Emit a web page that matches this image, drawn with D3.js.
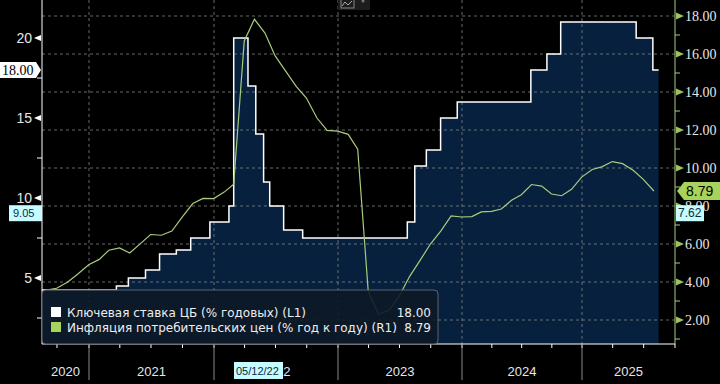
<!DOCTYPE html>
<html lang="ru">
<head>
<meta charset="utf-8">
<title>Ключевая ставка и инфляция</title>
<script src="https://cdn.jsdelivr.net/npm/d3@7"></script>
<style>
  body { margin: 0; background: #000; }
  svg { display: block; }
  .grid line { stroke: #8a8a8a; stroke-opacity: 0.75; stroke-dasharray: 3,3; }
  .tick-l text { fill: #e6e6e6; font: 14px "Liberation Sans", sans-serif; }
  .tick-r text { fill: #e6e6e6; font: 14px "Liberation Serif", serif; }
  .legend text { fill: #eeeeee; font: 12px "DejaVu Sans", sans-serif; }
</style>
</head>
<body>
<div id="chart"></div>
<script>
var width = 720, height = 384;

// key rate decisions (effective date, % per year)
var rateDates = ["2020-08-19","2021-03-22","2021-04-26","2021-06-15","2021-07-26","2021-09-13",
  "2021-10-25","2021-12-20","2022-02-14","2022-02-28","2022-04-11","2022-05-04","2022-05-27",
  "2022-06-14","2022-07-25","2022-09-19","2023-07-24","2023-08-15","2023-09-18","2023-10-30",
  "2023-12-18","2024-07-29","2024-09-16","2024-10-28","2025-06-09","2025-07-28","2025-08-14"];
var rateValues = [4.25,4.5,5,5.5,6.5,6.75,7.5,8.5,9.5,20,17,14,11,9.5,8,7.5,8.5,12,13,15,16,18,19,21,20,18,18];

// consumer price inflation, % y/y, monthly Aug 2020 - Jul 2025
var cpiMonths = ["2020-08","2020-09","2020-10","2020-11","2020-12",
  "2021-01","2021-02","2021-03","2021-04","2021-05","2021-06","2021-07","2021-08","2021-09","2021-10","2021-11","2021-12",
  "2022-01","2022-02","2022-03","2022-04","2022-05","2022-06","2022-07","2022-08","2022-09","2022-10","2022-11","2022-12",
  "2023-01","2023-02","2023-03","2023-04","2023-05","2023-06","2023-07","2023-08","2023-09","2023-10","2023-11","2023-12",
  "2024-01","2024-02","2024-03","2024-04","2024-05","2024-06","2024-07","2024-08","2024-09","2024-10","2024-11","2024-12",
  "2025-01","2025-02","2025-03","2025-04","2025-05","2025-06","2025-07"];
var cpiValues = [3.58,3.67,3.99,4.42,4.91,
  5.19,5.67,5.79,5.53,6.02,6.50,6.46,6.68,7.41,8.13,8.40,8.39,
  8.73,9.15,16.69,17.83,17.10,15.90,15.10,14.30,13.68,12.63,11.98,11.94,
  11.77,10.99,3.51,2.31,2.51,3.25,4.30,5.15,6.00,6.69,7.48,7.42,
  7.44,7.69,7.72,7.84,8.30,8.59,9.13,9.05,8.63,8.54,8.88,9.52,
  9.92,10.06,10.34,10.23,9.88,9.40,8.79];

var years = ["2020","2021","2022","2023","2024","2025"];
var leftTicks = [5,10,15,20], leftMinor = [2.5,7.5,12.5,17.5];
var rightTicks = [2,4,6,8,10,12,14,16,18], rightMinor = [1,3,5,7,9,11,13,15,17];

var legendNames = ["Ключевая ставка ЦБ (% годовых) (L1)", "Инфляция потребительских цен (% год к году) (R1)"];
var legendValues = ["18.00", "8.79"];

var parseDay = d3.timeParse("%Y-%m-%d"), parseMonth = d3.timeParse("%Y-%m");
var rate = rateDates.map(function(d, i) { return {date: parseDay(d), value: rateValues[i]}; });
var cpi = cpiMonths.map(function(m, i) {
  return {date: d3.timeDay.offset(d3.timeMonth.offset(parseMonth(m), 1), -1), value: cpiValues[i]};
});

var left = 42, right = 675, bottom = 344;

// Bloomberg-like axis: year widths slightly uneven
var x = d3.scaleTime()
  .domain([parseDay("2020-08-19"), parseDay("2021-01-01"), parseDay("2022-01-01"), parseDay("2023-01-01"),
           parseDay("2024-01-01"), parseDay("2025-01-01"), parseDay("2025-10-01")])
  .range([left, 89, 214, 338, 462, 582, right]);
var yL = d3.scaleLinear().domain([20, 5]).range([38, 278]);
var yR = d3.scaleLinear().domain([18, 2]).range([16, 320]);

var svg = d3.select("#chart").append("svg")
  .attr("width", width).attr("height", height);

svg.append("rect").attr("width", width).attr("height", height).attr("fill", "#000");

// key rate area + step line
var area = d3.area().curve(d3.curveStepAfter)
  .x(function(d) { return x(d.date); }).y0(bottom).y1(function(d) { return yL(d.value); });
var rateLine = d3.line().curve(d3.curveStepAfter)
  .x(function(d) { return x(d.date); }).y(function(d) { return yL(d.value); });

svg.append("path").datum(rate).attr("d", area).attr("fill", "#06203d");

// grid
var grid = svg.append("g").attr("class", "grid");
grid.selectAll(".h").data(rightTicks).enter().append("line")
  .attr("x1", left).attr("x2", right)
  .attr("y1", function(d) { return yR(d); }).attr("y2", function(d) { return yR(d); });
var yearStarts = years.slice(1).map(function(y) { return parseDay(y + "-01-01"); });
grid.selectAll(".v").data(yearStarts).enter().append("line")
  .attr("x1", function(d) { return x(d); }).attr("x2", function(d) { return x(d); })
  .attr("y1", 0).attr("y2", bottom);

svg.append("path").datum(rate).attr("d", rateLine)
  .attr("fill", "none").attr("stroke", "#fff").attr("stroke-width", 1.5);

var cpiLine = d3.line().x(function(d) { return x(d.date); }).y(function(d) { return yR(d.value); });
svg.append("path").datum(cpi).attr("d", cpiLine)
  .attr("fill", "none").attr("stroke", "#a9cc7c").attr("stroke-width", 1.2);

// left axis
var gl = svg.append("g").attr("class", "tick-l").attr("transform", "translate(" + left + ",0)")
  .call(d3.axisLeft(yL).tickValues(leftTicks).tickSize(0).tickPadding(10).tickFormat(d3.format("d")));
gl.select(".domain").remove();
gl.append("line").attr("y1", 0).attr("y2", bottom).attr("stroke", "#fff");
gl.selectAll(".tri").data(leftTicks).enter().append("path")
  .attr("d", function(d) { var y = yL(d); return "M-1," + (y - 3) + "L-8," + y + "L-1," + (y + 3) + "Z"; })
  .attr("fill", "#fff");
gl.selectAll(".mn").data(leftMinor).enter().append("line")
  .attr("x1", -5).attr("x2", 0)
  .attr("y1", function(d) { return yL(d); }).attr("y2", function(d) { return yL(d); })
  .attr("stroke", "#fff");

// right axis
var gr = svg.append("g").attr("class", "tick-r").attr("transform", "translate(" + right + ",0)")
  .call(d3.axisRight(yR).tickValues(rightTicks).tickSize(0).tickPadding(10).tickFormat(d3.format(".2f")));
gr.select(".domain").remove();
gr.append("line").attr("y1", 0).attr("y2", bottom).attr("stroke", "#a9cc7c");
gr.selectAll(".tri").data(rightTicks).enter().append("path")
  .attr("d", function(d) { var y = yR(d); return "M1," + (y - 3.5) + "L9," + y + "L1," + (y + 3.5) + "Z"; })
  .attr("fill", "#9cc45c");
gr.selectAll(".mn").data(rightMinor).enter().append("line")
  .attr("x1", 0).attr("x2", 5)
  .attr("y1", function(d) { return yR(d); }).attr("y2", function(d) { return yR(d); })
  .attr("stroke", "#a9cc7c");

// bottom axis
var gb = svg.append("g").attr("transform", "translate(0," + bottom + ")");
gb.append("line").attr("x1", left).attr("x2", right).attr("stroke", "#fff").attr("stroke-width", 1.2);
var quarters = d3.timeMonth.every(3).range(parseDay("2020-09-01"), parseDay("2025-09-30"));
gb.selectAll(".q").data(quarters).enter().append("line")
  .attr("x1", function(d) { return x(d); }).attr("x2", function(d) { return x(d); })
  .attr("y1", 0).attr("y2", 4).attr("stroke", "#fff");
gb.append("line").attr("x1", right).attr("x2", right).attr("y1", 0).attr("y2", 4).attr("stroke", "#fff");
gb.selectAll(".ys").data(yearStarts).enter().append("line")
  .attr("x1", function(d) { return x(d); }).attr("x2", function(d) { return x(d); })
  .attr("y1", 0).attr("y2", 36).attr("stroke", "#8a8a8a");
var yearBounds = [x.domain()[0]].concat(yearStarts, [x.domain()[x.domain().length - 1]]);
gb.selectAll(".yl").data(years).enter().append("text")
  .attr("x", function(d, i) { return (x(yearBounds[i]) + x(yearBounds[i + 1])) / 2; })
  .attr("y", 32).attr("text-anchor", "middle")
  .attr("fill", "#e6e6e6").style("font", "13px 'Liberation Sans', sans-serif")
  .text(function(d) { return d; });

// legend
var lg = svg.append("g").attr("class", "legend");
lg.append("rect").attr("x", left).attr("y", 290).attr("width", 396).attr("height", 54).attr("rx", 4)
  .attr("fill", "#0d1826").attr("fill-opacity", 0.9).attr("stroke", "#5a6470");
var swatch = ["#ffffff", "#a6d35a"];
legendNames.forEach(function(name, i) {
  var y = 307 + i * 15;
  lg.append("rect").attr("x", 51).attr("y", y).attr("width", 10).attr("height", 10).attr("fill", swatch[i]);
  lg.append("text").attr("x", 67).attr("y", y + 10).text(name);
  lg.append("text").attr("x", 431).attr("y", y + 10).attr("text-anchor", "end").text(legendValues[i]);
});

// value flags
var yLast = yL(rateValues[rateValues.length - 1]);
svg.append("path").attr("d", "M0," + (yLast - 8) + "H36L41," + yLast + "L36," + (yLast + 8) + "H0Z").attr("fill", "#fff");
svg.append("text").attr("x", 2).attr("y", yLast + 5).attr("fill", "#000")
  .style("font", "14px 'Liberation Serif', serif").text(legendValues[0]);

var yCpi = yR(cpiValues[cpiValues.length - 1]);
svg.append("path").attr("d", "M677," + yCpi + "L684," + (yCpi - 9) + "H720V" + (yCpi + 9) + "H684Z").attr("fill", "#a6d35a");
svg.append("text").attr("x", 686).attr("y", yCpi + 5).attr("fill", "#000")
  .style("font", "14px 'Liberation Sans', sans-serif").text(legendValues[1]);

// crosshair labels
var crossL = 9.05, crossR = 7.62, crossDate = "05/12/22";
svg.append("rect").attr("x", 9).attr("y", yL(crossL) - 8).attr("width", 33).attr("height", 16).attr("fill", "#c6fbff");
svg.append("text").attr("x", 13).attr("y", yL(crossL) + 4).attr("fill", "#0a2a40")
  .style("font", "11px 'Liberation Sans', sans-serif").text(crossL.toFixed(2));
svg.append("rect").attr("x", 676).attr("y", yR(crossR) - 8).attr("width", 28).attr("height", 16).attr("fill", "#c6fbff");
svg.append("text").attr("x", 678).attr("y", yR(crossR) + 4).attr("fill", "#0a2a40")
  .style("font", "12px 'Liberation Sans', sans-serif").text(crossR.toFixed(2));
svg.append("rect").attr("x", 234).attr("y", 362).attr("width", 49).attr("height", 17).attr("fill", "#c6fbff");
svg.append("text").attr("x", 236).attr("y", 375).attr("fill", "#0a2a40")
  .style("font", "11px 'Liberation Sans', sans-serif").text(crossDate);

// chart-type button at the top
svg.append("rect").attr("x", 338).attr("y", -3).attr("width", 32).attr("height", 13).attr("fill", "#1d1d1d");
svg.append("rect").attr("x", 341).attr("y", -2).attr("width", 13).attr("height", 10)
  .attr("fill", "none").attr("stroke", "#888");
svg.append("path").attr("d", "M342,6L345,2L348,5L352,1").attr("fill", "none").attr("stroke", "#aaa");
svg.append("circle").attr("cx", 363).attr("cy", 1).attr("r", 1.5).attr("fill", "#777");
</script>
</body>
</html>
